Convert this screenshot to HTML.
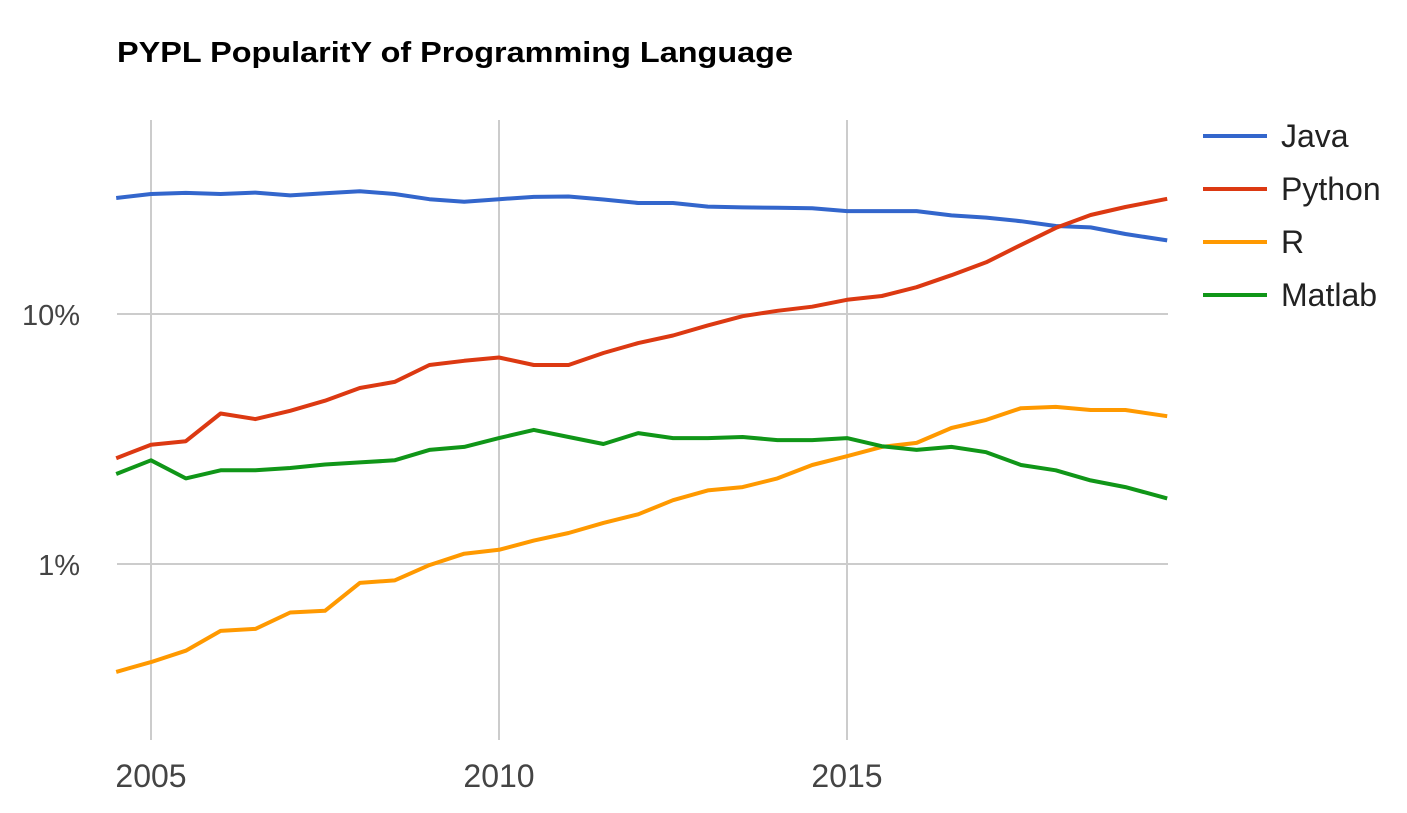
<!DOCTYPE html>
<html><head><meta charset="utf-8"><style>
body{margin:0;background:#fff;width:1407px;height:808px;overflow:hidden;font-family:"Liberation Sans",Arial,sans-serif}
</style></head><body>
<svg id="chart" width="1407" height="808" xmlns="http://www.w3.org/2000/svg">
<text x="117" y="62" font-size="29" font-weight="bold" fill="#000" textLength="676" lengthAdjust="spacingAndGlyphs">PYPL PopularitY of Programming Language</text>
<g id="grid"></g><g id="series"></g><g id="legend"></g>
</svg>
<script>
const years=[2004.5,2005,2005.5,2006,2006.5,2007,2007.5,2008,2008.5,2009,2009.5,2010,2010.5,2011,2011.5,2012,2012.5,2013,2013.5,2014,2014.5,2015,2015.5,2016,2016.5,2017,2017.5,2018,2018.5,2019,2019.6];
const java=[29.1,30.2,30.5,30.2,30.6,29.8,30.4,31,30.2,28.8,28.1,28.8,29.4,29.5,28.7,27.8,27.8,26.9,26.7,26.6,26.5,25.8,25.8,25.8,24.8,24.3,23.5,22.5,22.2,20.9,19.7];
const python=[2.65,3.0,3.1,4.0,3.8,4.1,4.5,5.06,5.35,6.25,6.5,6.7,6.25,6.25,6.98,7.65,8.2,9.0,9.8,10.3,10.7,11.4,11.8,12.8,14.3,16.1,18.9,22.1,24.9,26.8,28.9];
const rlang=[0.37,0.405,0.45,0.54,0.55,0.64,0.65,0.84,0.86,0.99,1.1,1.14,1.24,1.33,1.46,1.58,1.8,1.97,2.03,2.2,2.49,2.7,2.94,3.05,3.5,3.77,4.2,4.25,4.13,4.13,3.9];
const matlab=[2.29,2.6,2.2,2.37,2.37,2.42,2.5,2.55,2.6,2.86,2.94,3.19,3.44,3.22,3.02,3.34,3.19,3.19,3.22,3.13,3.13,3.19,2.96,2.86,2.94,2.8,2.49,2.37,2.16,2.03,1.83];
const seriesNames=["Java","Python","R","Matlab"];
const xTicks=[2005,2010,2015];
const yTicks=[1,10];
const yTickLabels=["1%","10%"];
const colors=["#3366cc","#dc3912","#ff9900","#109618"];
const NS="http://www.w3.org/2000/svg";
const X=y=>151+(y-2005)*69.6;
const Y=v=>314-250*Math.log10(v/10);
const grid=document.getElementById('grid');
function mk(tag,attrs,parent){const e=document.createElementNS(NS,tag);for(const k in attrs)e.setAttribute(k,attrs[k]);parent.appendChild(e);return e;}
xTicks.forEach(t=>{
 const l=mk('line',{x1:X(t),x2:X(t),y1:120,y2:740,stroke:'#ccc','stroke-width':2},grid);
 
 
 const tx=mk('text',{x:X(t),y:787,'text-anchor':'middle','font-size':32,fill:'#444'},grid);
 tx.textContent=t;
 
 
});
yTicks.forEach((t,i)=>{
 const l=mk('line',{x1:117,x2:1168,y1:Y(t),y2:Y(t),stroke:'#ccc','stroke-width':2},grid);
 
 
 const tx=mk('text',{x:80,y:Y(t)+11,'text-anchor':'end','font-size':29,fill:'#444'},grid);
 tx.textContent=yTickLabels[i];
 
 
});
const sg=document.getElementById('series'),lg=document.getElementById('legend');
[java,python,rlang,matlab].forEach((vals,i)=>{
 const d=vals.map((v,j)=>(j?'L':'M')+X(years[j]).toFixed(1)+' '+Y(v).toFixed(1)).join(' ');
 const p=mk('path',{d:d,fill:'none',stroke:colors[i],'stroke-width':4,'stroke-linejoin':'round'},sg);
 
 
 const ly=136+i*53;
 const ll=mk('line',{x1:1203,x2:1267,y1:ly,y2:ly,stroke:colors[i],'stroke-width':4},lg);
 
 
 const lt=mk('text',{x:1281,y:ly+11,'font-size':32,fill:'#222'},lg);
 lt.textContent=seriesNames[i];
 
 
});
</script>
</body></html>
